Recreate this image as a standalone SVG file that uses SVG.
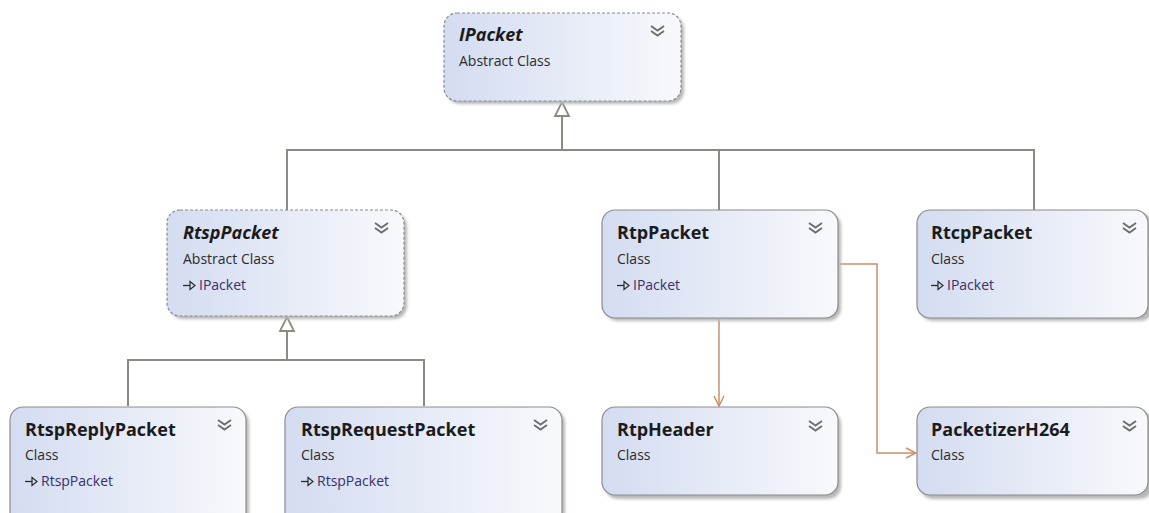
<svg xmlns="http://www.w3.org/2000/svg" width="1149" height="513" viewBox="0 0 1149 513">
  <defs>
    <linearGradient id="fill" x1="0" y1="0" x2="1" y2="0">
      <stop offset="0" stop-color="#d3dcf1"/>
      <stop offset="1" stop-color="#f8f9fc"/>
    </linearGradient>
    <filter id="shadow" x="-10%" y="-10%" width="130%" height="140%">
      <feGaussianBlur stdDeviation="1.5"/>
    </filter>
    <marker id="open" viewBox="0 0 12 12" refX="11" refY="6" markerWidth="12" markerHeight="12" markerUnits="userSpaceOnUse" orient="auto">
      <path d="M1,1 L11,6 L1,11" fill="none" stroke="#c8906a" stroke-width="1.5"/>
    </marker>
    <g id="chev">
      <path d="M0,0 L6.5,4.5 L13,0 M0,5 L6.5,9.5 L13,5" fill="none" stroke="#6e6e6e" stroke-width="1.9"/>
    </g>
    <g id="impl">
      <path d="M0,4.5 H7" stroke="#2a2a2a" stroke-width="1.3"/>
      <path d="M7,0.5 L12,4.5 L7,8.5 Z" fill="none" stroke="#2a2a2a" stroke-width="1.2"/>
    </g>
  </defs>
  <style>
    .box { fill: url(#fill); stroke: #8c8c8c; stroke-width: 1.2; }
    .abs { stroke-dasharray: 3 2; }
    .sh { fill: #b8b8b8; filter: url(#shadow); }
    .title { font-family: "Open Sans", "Noto Sans", sans-serif; font-weight: bold; font-size: 18px; fill: #1b1b1b; }
    .it { font-style: italic; }
    .sub { font-family: "Open Sans", "Noto Sans", sans-serif; font-size: 14px; fill: #2b2b2b; }
    .base { font-family: "Open Sans", "Noto Sans", sans-serif; font-size: 14px; fill: #3b2f6a; }
    .gen { fill: none; stroke: #8a8a82; stroke-width: 2; }
    .dep { fill: none; stroke: #c8906a; stroke-width: 1.5; }
  </style>
  <rect width="1149" height="513" fill="#ffffff"/>

  <!-- connectors -->
  <g id="connectors">
    <!-- generalisation to IPacket -->
    <path class="gen" d="M287,210 V150 H1034 V210 M719,150 V210 M562,150 V116"/>
    <path d="M562,102 L569,116 L555,116 Z" fill="#ffffff" stroke="#8a8a82" stroke-width="1.8"/>
    <!-- generalisation to RtspPacket -->
    <path class="gen" d="M128,406 V360 H424 V406 M287,360 V331"/>
    <path d="M287,317 L294,331 L280,331 Z" fill="#ffffff" stroke="#8a8a82" stroke-width="1.8"/>
    <!-- associations from RtpPacket -->
    <path class="dep" d="M719,318 V406" marker-end="url(#open)"/>
    <path class="dep" d="M837,264 H877 V453 H916" marker-end="url(#open)"/>
  </g>

  <g id="IPacket">
    <rect class="sh" x="447" y="16" width="237" height="88" rx="13"/>
    <rect class="box abs" x="444" y="13" width="237" height="88" rx="13"/>
    <text class="title it" x="459" y="41">IPacket</text>
    <text class="sub" x="459" y="66">Abstract Class</text>
    <use href="#chev" x="651" y="26"/>
  </g>

  <g id="RtspPacket">
    <rect class="sh" x="170" y="213" width="237" height="106" rx="13"/>
    <rect class="box abs" x="167" y="210" width="237" height="106" rx="13"/>
    <text class="title it" x="183" y="239">RtspPacket</text>
    <text class="sub" x="183" y="264">Abstract Class</text>
    <use href="#impl" x="183" y="281"/>
    <text class="base" x="199" y="290">IPacket</text>
    <use href="#chev" x="375" y="223"/>
  </g>

  <g id="RtpPacket">
    <rect class="sh" x="605" y="213" width="236" height="108" rx="13"/>
    <rect class="box" x="602" y="210" width="236" height="108" rx="13"/>
    <text class="title" x="617" y="239">RtpPacket</text>
    <text class="sub" x="617" y="264">Class</text>
    <use href="#impl" x="617" y="281"/>
    <text class="base" x="633" y="290">IPacket</text>
    <use href="#chev" x="809" y="223"/>
  </g>

  <g id="RtcpPacket">
    <rect class="sh" x="920" y="213" width="233" height="108" rx="13"/>
    <rect class="box" x="917" y="210" width="231" height="108" rx="13"/>
    <text class="title" x="931" y="239">RtcpPacket</text>
    <text class="sub" x="931" y="264">Class</text>
    <use href="#impl" x="931" y="281"/>
    <text class="base" x="947" y="290">IPacket</text>
    <use href="#chev" x="1123" y="223"/>
  </g>

  <g id="RtspReplyPacket">
    <rect class="sh" x="13" y="410" width="236" height="120" rx="13"/>
    <rect class="box" x="10" y="407" width="236" height="120" rx="13"/>
    <text class="title" x="25" y="436">RtspReplyPacket</text>
    <text class="sub" x="25" y="460">Class</text>
    <use href="#impl" x="25" y="477"/>
    <text class="base" x="41" y="486">RtspPacket</text>
    <use href="#chev" x="218" y="420"/>
  </g>

  <g id="RtspRequestPacket">
    <rect class="sh" x="288" y="410" width="277" height="120" rx="13"/>
    <rect class="box" x="285" y="407" width="277" height="120" rx="13"/>
    <text class="title" x="301" y="436">RtspRequestPacket</text>
    <text class="sub" x="301" y="460">Class</text>
    <use href="#impl" x="301" y="477"/>
    <text class="base" x="317" y="486">RtspPacket</text>
    <use href="#chev" x="534" y="420"/>
  </g>

  <g id="RtpHeader">
    <rect class="sh" x="605" y="411" width="236" height="88" rx="13"/>
    <rect class="box" x="602" y="407" width="236" height="88" rx="13"/>
    <text class="title" x="617" y="436">RtpHeader</text>
    <text class="sub" x="617" y="460">Class</text>
    <use href="#chev" x="809" y="421"/>
  </g>

  <g id="PacketizerH264">
    <rect class="sh" x="920" y="411" width="233" height="88" rx="13"/>
    <rect class="box" x="917" y="407" width="231" height="88" rx="13"/>
    <text class="title" x="931" y="436">PacketizerH264</text>
    <text class="sub" x="931" y="460">Class</text>
    <use href="#chev" x="1123" y="421"/>
  </g>
</svg>
